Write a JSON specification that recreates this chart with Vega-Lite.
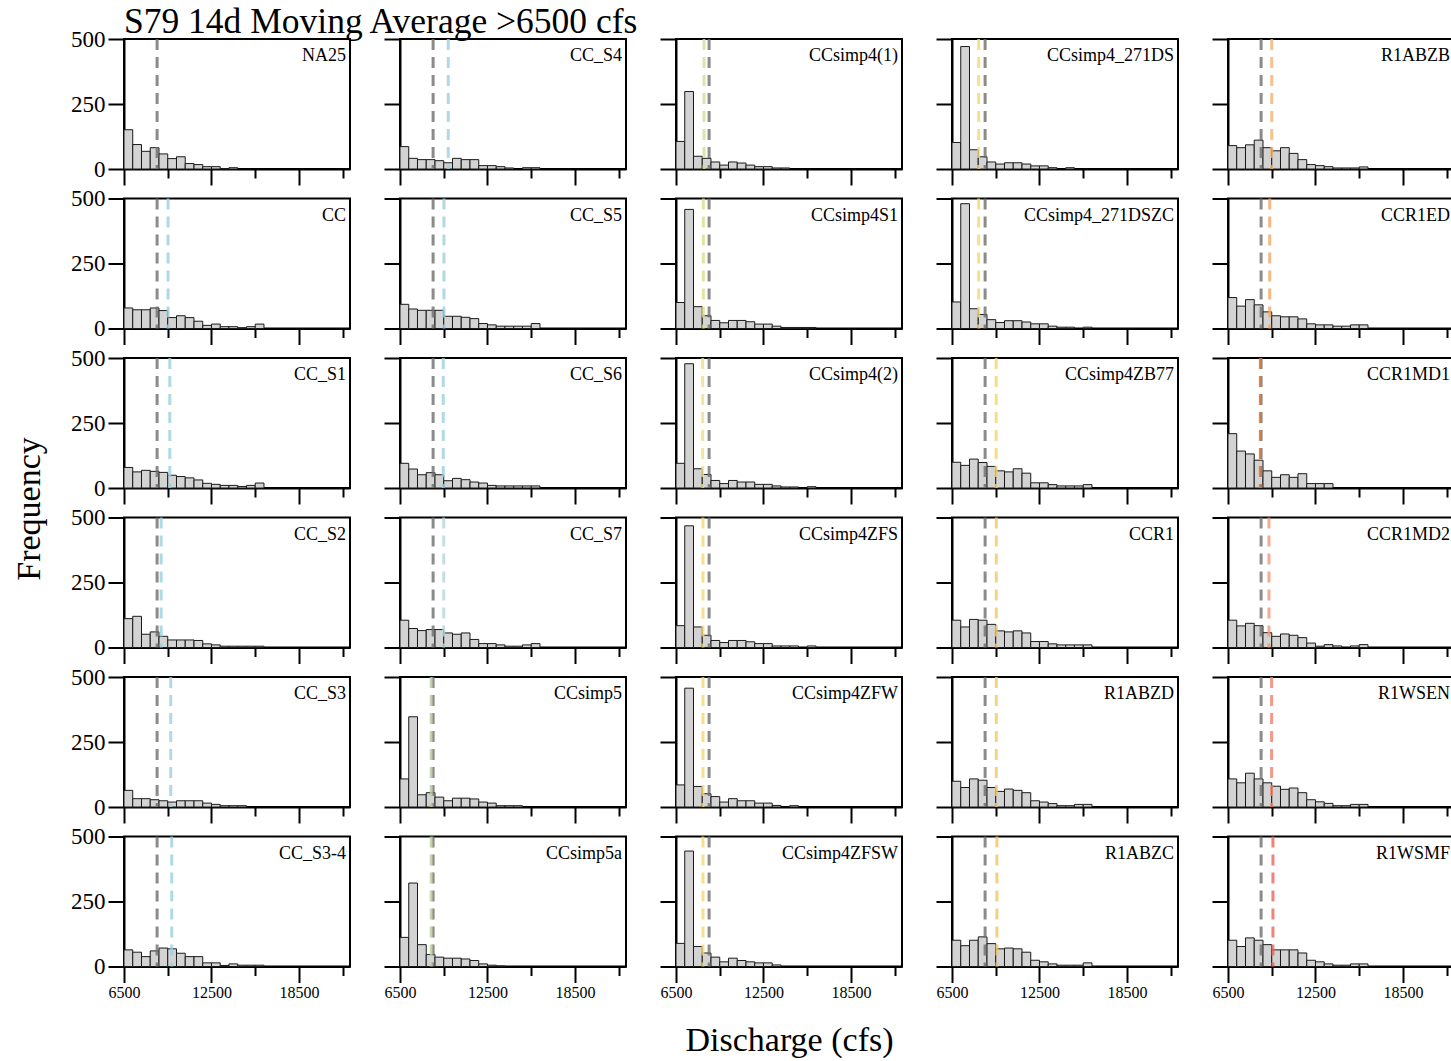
{
"$schema": "https://vega.github.io/schema/vega-lite/v6.json",
"background": "white",
"padding": {"left": 11, "top": 5, "right": 0, "bottom": 0},
"title": {"text": "S79 14d Moving Average >6500 cfs", "anchor": "start", "frame": "group", "font": "Liberation Serif", "fontSize": 35.5, "fontWeight": "normal", "color": "black", "baseline": "alphabetic", "offset": -41.5},
"datasets": {
"hist": [
{"m":"NA25","a":6500,"b":7100,"n":151},{"m":"NA25","a":7100,"b":7700,"n":94},{"m":"NA25","a":7700,"b":8300,"n":68},{"m":"NA25","a":8300,"b":8900,"n":82},{"m":"NA25","a":8900,"b":9500,"n":58},{"m":"NA25","a":9500,"b":10100,"n":40},{"m":"NA25","a":10100,"b":10700,"n":47},{"m":"NA25","a":10700,"b":11300,"n":21},{"m":"NA25","a":11300,"b":11900,"n":17},{"m":"NA25","a":11900,"b":12500,"n":9},{"m":"NA25","a":12500,"b":13100,"n":9},{"m":"NA25","a":13100,"b":13700,"n":1},{"m":"NA25","a":13700,"b":14300,"n":5},
{"m":"CC","a":6500,"b":7100,"n":79},{"m":"CC","a":7100,"b":7700,"n":72},{"m":"CC","a":7700,"b":8300,"n":72},{"m":"CC","a":8300,"b":8900,"n":79},{"m":"CC","a":8900,"b":9500,"n":69},{"m":"CC","a":9500,"b":10100,"n":42},{"m":"CC","a":10100,"b":10700,"n":49},{"m":"CC","a":10700,"b":11300,"n":42},{"m":"CC","a":11300,"b":11900,"n":28},{"m":"CC","a":11900,"b":12500,"n":12},{"m":"CC","a":12500,"b":13100,"n":17},{"m":"CC","a":13100,"b":13700,"n":7},{"m":"CC","a":13700,"b":14300,"n":7},{"m":"CC","a":14300,"b":14900,"n":3},{"m":"CC","a":14900,"b":15500,"n":7},{"m":"CC","a":15500,"b":16100,"n":17},
{"m":"CC_S1","a":6500,"b":7100,"n":79},{"m":"CC_S1","a":7100,"b":7700,"n":62},{"m":"CC_S1","a":7700,"b":8300,"n":68},{"m":"CC_S1","a":8300,"b":8900,"n":64},{"m":"CC_S1","a":8900,"b":9500,"n":60},{"m":"CC_S1","a":9500,"b":10100,"n":49},{"m":"CC_S1","a":10100,"b":10700,"n":44},{"m":"CC_S1","a":10700,"b":11300,"n":39},{"m":"CC_S1","a":11300,"b":11900,"n":31},{"m":"CC_S1","a":11900,"b":12500,"n":18},{"m":"CC_S1","a":12500,"b":13100,"n":14},{"m":"CC_S1","a":13100,"b":13700,"n":10},{"m":"CC_S1","a":13700,"b":14300,"n":10},{"m":"CC_S1","a":14300,"b":14900,"n":6},{"m":"CC_S1","a":14900,"b":15500,"n":10},{"m":"CC_S1","a":15500,"b":16100,"n":19},
{"m":"CC_S2","a":6500,"b":7100,"n":111},{"m":"CC_S2","a":7100,"b":7700,"n":120},{"m":"CC_S2","a":7700,"b":8300,"n":51},{"m":"CC_S2","a":8300,"b":8900,"n":60},{"m":"CC_S2","a":8900,"b":9500,"n":43},{"m":"CC_S2","a":9500,"b":10100,"n":29},{"m":"CC_S2","a":10100,"b":10700,"n":29},{"m":"CC_S2","a":10700,"b":11300,"n":29},{"m":"CC_S2","a":11300,"b":11900,"n":27},{"m":"CC_S2","a":11900,"b":12500,"n":14},{"m":"CC_S2","a":12500,"b":13100,"n":10},{"m":"CC_S2","a":13100,"b":13700,"n":5},{"m":"CC_S2","a":13700,"b":14300,"n":5},{"m":"CC_S2","a":14300,"b":14900,"n":5},{"m":"CC_S2","a":14900,"b":15500,"n":5},{"m":"CC_S2","a":15500,"b":16100,"n":5},
{"m":"CC_S3","a":6500,"b":7100,"n":64},{"m":"CC_S3","a":7100,"b":7700,"n":32},{"m":"CC_S3","a":7700,"b":8300,"n":32},{"m":"CC_S3","a":8300,"b":8900,"n":28},{"m":"CC_S3","a":8900,"b":9500,"n":24},{"m":"CC_S3","a":9500,"b":10100,"n":19},{"m":"CC_S3","a":10100,"b":10700,"n":24},{"m":"CC_S3","a":10700,"b":11300,"n":24},{"m":"CC_S3","a":11300,"b":11900,"n":24},{"m":"CC_S3","a":11900,"b":12500,"n":15},{"m":"CC_S3","a":12500,"b":13100,"n":10},{"m":"CC_S3","a":13100,"b":13700,"n":5},{"m":"CC_S3","a":13700,"b":14300,"n":5},{"m":"CC_S3","a":14300,"b":14900,"n":5},
{"m":"CC_S3-4","a":6500,"b":7100,"n":64},{"m":"CC_S3-4","a":7100,"b":7700,"n":55},{"m":"CC_S3-4","a":7700,"b":8300,"n":38},{"m":"CC_S3-4","a":8300,"b":8900,"n":60},{"m":"CC_S3-4","a":8900,"b":9500,"n":71},{"m":"CC_S3-4","a":9500,"b":10100,"n":68},{"m":"CC_S3-4","a":10100,"b":10700,"n":51},{"m":"CC_S3-4","a":10700,"b":11300,"n":38},{"m":"CC_S3-4","a":11300,"b":11900,"n":38},{"m":"CC_S3-4","a":11900,"b":12500,"n":14},{"m":"CC_S3-4","a":12500,"b":13100,"n":14},{"m":"CC_S3-4","a":13100,"b":13700,"n":4},{"m":"CC_S3-4","a":13700,"b":14300,"n":10},{"m":"CC_S3-4","a":14300,"b":14900,"n":5},{"m":"CC_S3-4","a":14900,"b":15500,"n":5},{"m":"CC_S3-4","a":15500,"b":16100,"n":5},
{"m":"CC_S4","a":6500,"b":7100,"n":86},{"m":"CC_S4","a":7100,"b":7700,"n":41},{"m":"CC_S4","a":7700,"b":8300,"n":36},{"m":"CC_S4","a":8300,"b":8900,"n":36},{"m":"CC_S4","a":8900,"b":9500,"n":32},{"m":"CC_S4","a":9500,"b":10100,"n":24},{"m":"CC_S4","a":10100,"b":10700,"n":41},{"m":"CC_S4","a":10700,"b":11300,"n":36},{"m":"CC_S4","a":11300,"b":11900,"n":36},{"m":"CC_S4","a":11900,"b":12500,"n":13},{"m":"CC_S4","a":12500,"b":13100,"n":13},{"m":"CC_S4","a":13100,"b":13700,"n":9},{"m":"CC_S4","a":13700,"b":14300,"n":4},{"m":"CC_S4","a":14900,"b":15500,"n":5},{"m":"CC_S4","a":15500,"b":16100,"n":5},
{"m":"CC_S5","a":6500,"b":7100,"n":93},{"m":"CC_S5","a":7100,"b":7700,"n":75},{"m":"CC_S5","a":7700,"b":8300,"n":70},{"m":"CC_S5","a":8300,"b":8900,"n":70},{"m":"CC_S5","a":8900,"b":9500,"n":70},{"m":"CC_S5","a":9500,"b":10100,"n":47},{"m":"CC_S5","a":10100,"b":10700,"n":47},{"m":"CC_S5","a":10700,"b":11300,"n":43},{"m":"CC_S5","a":11300,"b":11900,"n":38},{"m":"CC_S5","a":11900,"b":12500,"n":19},{"m":"CC_S5","a":12500,"b":13100,"n":14},{"m":"CC_S5","a":13100,"b":13700,"n":9},{"m":"CC_S5","a":13700,"b":14300,"n":9},{"m":"CC_S5","a":14300,"b":14900,"n":9},{"m":"CC_S5","a":14900,"b":15500,"n":9},{"m":"CC_S5","a":15500,"b":16100,"n":19},
{"m":"CC_S6","a":6500,"b":7100,"n":95},{"m":"CC_S6","a":7100,"b":7700,"n":73},{"m":"CC_S6","a":7700,"b":8300,"n":51},{"m":"CC_S6","a":8300,"b":8900,"n":59},{"m":"CC_S6","a":8900,"b":9500,"n":51},{"m":"CC_S6","a":9500,"b":10100,"n":28},{"m":"CC_S6","a":10100,"b":10700,"n":37},{"m":"CC_S6","a":10700,"b":11300,"n":32},{"m":"CC_S6","a":11300,"b":11900,"n":23},{"m":"CC_S6","a":11900,"b":12500,"n":19},{"m":"CC_S6","a":12500,"b":13100,"n":10},{"m":"CC_S6","a":13100,"b":13700,"n":8},{"m":"CC_S6","a":13700,"b":14300,"n":8},{"m":"CC_S6","a":14300,"b":14900,"n":8},{"m":"CC_S6","a":14900,"b":15500,"n":8},{"m":"CC_S6","a":15500,"b":16100,"n":8},
{"m":"CC_S7","a":6500,"b":7100,"n":105},{"m":"CC_S7","a":7100,"b":7700,"n":73},{"m":"CC_S7","a":7700,"b":8300,"n":65},{"m":"CC_S7","a":8300,"b":8900,"n":69},{"m":"CC_S7","a":8900,"b":9500,"n":69},{"m":"CC_S7","a":9500,"b":10100,"n":56},{"m":"CC_S7","a":10100,"b":10700,"n":51},{"m":"CC_S7","a":10700,"b":11300,"n":56},{"m":"CC_S7","a":11300,"b":11900,"n":31},{"m":"CC_S7","a":11900,"b":12500,"n":15},{"m":"CC_S7","a":12500,"b":13100,"n":15},{"m":"CC_S7","a":13100,"b":13700,"n":10},{"m":"CC_S7","a":13700,"b":14300,"n":5},{"m":"CC_S7","a":14300,"b":14900,"n":5},{"m":"CC_S7","a":14900,"b":15500,"n":10},{"m":"CC_S7","a":15500,"b":16100,"n":15},
{"m":"CCsimp5","a":6500,"b":7100,"n":108},{"m":"CCsimp5","a":7100,"b":7700,"n":347},{"m":"CCsimp5","a":7700,"b":8300,"n":47},{"m":"CCsimp5","a":8300,"b":8900,"n":55},{"m":"CCsimp5","a":8900,"b":9500,"n":38},{"m":"CCsimp5","a":9500,"b":10100,"n":24},{"m":"CCsimp5","a":10100,"b":10700,"n":34},{"m":"CCsimp5","a":10700,"b":11300,"n":34},{"m":"CCsimp5","a":11300,"b":11900,"n":31},{"m":"CCsimp5","a":11900,"b":12500,"n":19},{"m":"CCsimp5","a":12500,"b":13100,"n":15},{"m":"CCsimp5","a":13100,"b":13700,"n":5},{"m":"CCsimp5","a":13700,"b":14300,"n":5},{"m":"CCsimp5","a":14300,"b":14900,"n":5},
{"m":"CCsimp5a","a":6500,"b":7100,"n":112},{"m":"CCsimp5a","a":7100,"b":7700,"n":321},{"m":"CCsimp5a","a":7700,"b":8300,"n":84},{"m":"CCsimp5a","a":8300,"b":8900,"n":46},{"m":"CCsimp5a","a":8900,"b":9500,"n":36},{"m":"CCsimp5a","a":9500,"b":10100,"n":32},{"m":"CCsimp5a","a":10100,"b":10700,"n":32},{"m":"CCsimp5a","a":10700,"b":11300,"n":29},{"m":"CCsimp5a","a":11300,"b":11900,"n":23},{"m":"CCsimp5a","a":11900,"b":12500,"n":10},{"m":"CCsimp5a","a":12500,"b":13100,"n":5},{"m":"CCsimp5a","a":13100,"b":13700,"n":2},
{"m":"CCsimp4(1)","a":6500,"b":7100,"n":106},{"m":"CCsimp4(1)","a":7100,"b":7700,"n":298},{"m":"CCsimp4(1)","a":7700,"b":8300,"n":49},{"m":"CCsimp4(1)","a":8300,"b":8900,"n":41},{"m":"CCsimp4(1)","a":8900,"b":9500,"n":27},{"m":"CCsimp4(1)","a":9500,"b":10100,"n":15},{"m":"CCsimp4(1)","a":10100,"b":10700,"n":27},{"m":"CCsimp4(1)","a":10700,"b":11300,"n":23},{"m":"CCsimp4(1)","a":11300,"b":11900,"n":15},{"m":"CCsimp4(1)","a":11900,"b":12500,"n":9},{"m":"CCsimp4(1)","a":12500,"b":13100,"n":9},{"m":"CCsimp4(1)","a":13100,"b":13700,"n":4},{"m":"CCsimp4(1)","a":13700,"b":14300,"n":4},
{"m":"CCsimp4S1","a":6500,"b":7100,"n":100},{"m":"CCsimp4S1","a":7100,"b":7700,"n":458},{"m":"CCsimp4S1","a":7700,"b":8300,"n":84},{"m":"CCsimp4S1","a":8300,"b":8900,"n":49},{"m":"CCsimp4S1","a":8900,"b":9500,"n":31},{"m":"CCsimp4S1","a":9500,"b":10100,"n":22},{"m":"CCsimp4S1","a":10100,"b":10700,"n":31},{"m":"CCsimp4S1","a":10700,"b":11300,"n":31},{"m":"CCsimp4S1","a":11300,"b":11900,"n":26},{"m":"CCsimp4S1","a":11900,"b":12500,"n":17},{"m":"CCsimp4S1","a":12500,"b":13100,"n":17},{"m":"CCsimp4S1","a":13100,"b":13700,"n":9},{"m":"CCsimp4S1","a":13700,"b":14300,"n":4},{"m":"CCsimp4S1","a":14300,"b":14900,"n":4},{"m":"CCsimp4S1","a":14900,"b":15500,"n":4},{"m":"CCsimp4S1","a":15500,"b":16100,"n":4},
{"m":"CCsimp4(2)","a":6500,"b":7100,"n":95},{"m":"CCsimp4(2)","a":7100,"b":7700,"n":478},{"m":"CCsimp4(2)","a":7700,"b":8300,"n":74},{"m":"CCsimp4(2)","a":8300,"b":8900,"n":52},{"m":"CCsimp4(2)","a":8900,"b":9500,"n":29},{"m":"CCsimp4(2)","a":9500,"b":10100,"n":17},{"m":"CCsimp4(2)","a":10100,"b":10700,"n":29},{"m":"CCsimp4(2)","a":10700,"b":11300,"n":23},{"m":"CCsimp4(2)","a":11300,"b":11900,"n":23},{"m":"CCsimp4(2)","a":11900,"b":12500,"n":14},{"m":"CCsimp4(2)","a":12500,"b":13100,"n":14},{"m":"CCsimp4(2)","a":13100,"b":13700,"n":8},{"m":"CCsimp4(2)","a":13700,"b":14300,"n":4},{"m":"CCsimp4(2)","a":14300,"b":14900,"n":4},{"m":"CCsimp4(2)","a":15500,"b":16100,"n":5},
{"m":"CCsimp4ZFS","a":6500,"b":7100,"n":84},{"m":"CCsimp4ZFS","a":7100,"b":7700,"n":468},{"m":"CCsimp4ZFS","a":7700,"b":8300,"n":79},{"m":"CCsimp4ZFS","a":8300,"b":8900,"n":47},{"m":"CCsimp4ZFS","a":8900,"b":9500,"n":27},{"m":"CCsimp4ZFS","a":9500,"b":10100,"n":19},{"m":"CCsimp4ZFS","a":10100,"b":10700,"n":27},{"m":"CCsimp4ZFS","a":10700,"b":11300,"n":27},{"m":"CCsimp4ZFS","a":11300,"b":11900,"n":22},{"m":"CCsimp4ZFS","a":11900,"b":12500,"n":15},{"m":"CCsimp4ZFS","a":12500,"b":13100,"n":15},{"m":"CCsimp4ZFS","a":13100,"b":13700,"n":6},{"m":"CCsimp4ZFS","a":13700,"b":14300,"n":6},{"m":"CCsimp4ZFS","a":14300,"b":14900,"n":6},{"m":"CCsimp4ZFS","a":15500,"b":16100,"n":6},
{"m":"CCsimp4ZFW","a":6500,"b":7100,"n":85},{"m":"CCsimp4ZFW","a":7100,"b":7700,"n":457},{"m":"CCsimp4ZFW","a":7700,"b":8300,"n":79},{"m":"CCsimp4ZFW","a":8300,"b":8900,"n":51},{"m":"CCsimp4ZFW","a":8900,"b":9500,"n":40},{"m":"CCsimp4ZFW","a":9500,"b":10100,"n":19},{"m":"CCsimp4ZFW","a":10100,"b":10700,"n":32},{"m":"CCsimp4ZFW","a":10700,"b":11300,"n":24},{"m":"CCsimp4ZFW","a":11300,"b":11900,"n":24},{"m":"CCsimp4ZFW","a":11900,"b":12500,"n":15},{"m":"CCsimp4ZFW","a":12500,"b":13100,"n":15},{"m":"CCsimp4ZFW","a":13100,"b":13700,"n":6},{"m":"CCsimp4ZFW","a":14300,"b":14900,"n":5},
{"m":"CCsimp4ZFSW","a":6500,"b":7100,"n":89},{"m":"CCsimp4ZFSW","a":7100,"b":7700,"n":444},{"m":"CCsimp4ZFSW","a":7700,"b":8300,"n":77},{"m":"CCsimp4ZFSW","a":8300,"b":8900,"n":52},{"m":"CCsimp4ZFSW","a":8900,"b":9500,"n":36},{"m":"CCsimp4ZFSW","a":9500,"b":10100,"n":18},{"m":"CCsimp4ZFSW","a":10100,"b":10700,"n":32},{"m":"CCsimp4ZFSW","a":10700,"b":11300,"n":23},{"m":"CCsimp4ZFSW","a":11300,"b":11900,"n":18},{"m":"CCsimp4ZFSW","a":11900,"b":12500,"n":14},{"m":"CCsimp4ZFSW","a":12500,"b":13100,"n":14},{"m":"CCsimp4ZFSW","a":13100,"b":13700,"n":6},
{"m":"CCsimp4_271DS","a":6500,"b":7100,"n":102},{"m":"CCsimp4_271DS","a":7100,"b":7700,"n":471},{"m":"CCsimp4_271DS","a":7700,"b":8300,"n":74},{"m":"CCsimp4_271DS","a":8300,"b":8900,"n":47},{"m":"CCsimp4_271DS","a":8900,"b":9500,"n":27},{"m":"CCsimp4_271DS","a":9500,"b":10100,"n":19},{"m":"CCsimp4_271DS","a":10100,"b":10700,"n":24},{"m":"CCsimp4_271DS","a":10700,"b":11300,"n":24},{"m":"CCsimp4_271DS","a":11300,"b":11900,"n":19},{"m":"CCsimp4_271DS","a":11900,"b":12500,"n":12},{"m":"CCsimp4_271DS","a":12500,"b":13100,"n":12},{"m":"CCsimp4_271DS","a":13100,"b":13700,"n":5},{"m":"CCsimp4_271DS","a":14300,"b":14900,"n":5},
{"m":"CCsimp4_271DSZC","a":6500,"b":7100,"n":102},{"m":"CCsimp4_271DSZC","a":7100,"b":7700,"n":480},{"m":"CCsimp4_271DSZC","a":7700,"b":8300,"n":76},{"m":"CCsimp4_271DSZC","a":8300,"b":8900,"n":54},{"m":"CCsimp4_271DSZC","a":8900,"b":9500,"n":34},{"m":"CCsimp4_271DSZC","a":9500,"b":10100,"n":23},{"m":"CCsimp4_271DSZC","a":10100,"b":10700,"n":30},{"m":"CCsimp4_271DSZC","a":10700,"b":11300,"n":30},{"m":"CCsimp4_271DSZC","a":11300,"b":11900,"n":25},{"m":"CCsimp4_271DSZC","a":11900,"b":12500,"n":18},{"m":"CCsimp4_271DSZC","a":12500,"b":13100,"n":18},{"m":"CCsimp4_271DSZC","a":13100,"b":13700,"n":9},{"m":"CCsimp4_271DSZC","a":13700,"b":14300,"n":5},{"m":"CCsimp4_271DSZC","a":14300,"b":14900,"n":5},{"m":"CCsimp4_271DSZC","a":15500,"b":16100,"n":5},
{"m":"CCsimp4ZB77","a":6500,"b":7100,"n":99},{"m":"CCsimp4ZB77","a":7100,"b":7700,"n":87},{"m":"CCsimp4ZB77","a":7700,"b":8300,"n":111},{"m":"CCsimp4ZB77","a":8300,"b":8900,"n":98},{"m":"CCsimp4ZB77","a":8900,"b":9500,"n":83},{"m":"CCsimp4ZB77","a":9500,"b":10100,"n":66},{"m":"CCsimp4ZB77","a":10100,"b":10700,"n":62},{"m":"CCsimp4ZB77","a":10700,"b":11300,"n":74},{"m":"CCsimp4ZB77","a":11300,"b":11900,"n":57},{"m":"CCsimp4ZB77","a":11900,"b":12500,"n":20},{"m":"CCsimp4ZB77","a":12500,"b":13100,"n":20},{"m":"CCsimp4ZB77","a":13100,"b":13700,"n":13},{"m":"CCsimp4ZB77","a":13700,"b":14300,"n":8},{"m":"CCsimp4ZB77","a":14300,"b":14900,"n":8},{"m":"CCsimp4ZB77","a":14900,"b":15500,"n":8},{"m":"CCsimp4ZB77","a":15500,"b":16100,"n":13},
{"m":"CCR1","a":6500,"b":7100,"n":105},{"m":"CCR1","a":7100,"b":7700,"n":79},{"m":"CCR1","a":7700,"b":8300,"n":108},{"m":"CCR1","a":8300,"b":8900,"n":105},{"m":"CCR1","a":8900,"b":9500,"n":89},{"m":"CCR1","a":9500,"b":10100,"n":64},{"m":"CCR1","a":10100,"b":10700,"n":60},{"m":"CCR1","a":10700,"b":11300,"n":64},{"m":"CCR1","a":11300,"b":11900,"n":56},{"m":"CCR1","a":11900,"b":12500,"n":23},{"m":"CCR1","a":12500,"b":13100,"n":23},{"m":"CCR1","a":13100,"b":13700,"n":14},{"m":"CCR1","a":13700,"b":14300,"n":10},{"m":"CCR1","a":14300,"b":14900,"n":10},{"m":"CCR1","a":14900,"b":15500,"n":10},{"m":"CCR1","a":15500,"b":16100,"n":10},
{"m":"R1ABZD","a":6500,"b":7100,"n":99},{"m":"R1ABZD","a":7100,"b":7700,"n":75},{"m":"R1ABZD","a":7700,"b":8300,"n":108},{"m":"R1ABZD","a":8300,"b":8900,"n":103},{"m":"R1ABZD","a":8900,"b":9500,"n":75},{"m":"R1ABZD","a":9500,"b":10100,"n":60},{"m":"R1ABZD","a":10100,"b":10700,"n":69},{"m":"R1ABZD","a":10700,"b":11300,"n":64},{"m":"R1ABZD","a":11300,"b":11900,"n":55},{"m":"R1ABZD","a":11900,"b":12500,"n":24},{"m":"R1ABZD","a":12500,"b":13100,"n":19},{"m":"R1ABZD","a":13100,"b":13700,"n":13},{"m":"R1ABZD","a":13700,"b":14300,"n":5},{"m":"R1ABZD","a":14300,"b":14900,"n":5},{"m":"R1ABZD","a":14900,"b":15500,"n":10},{"m":"R1ABZD","a":15500,"b":16100,"n":10},
{"m":"R1ABZC","a":6500,"b":7100,"n":101},{"m":"R1ABZC","a":7100,"b":7700,"n":80},{"m":"R1ABZC","a":7700,"b":8300,"n":101},{"m":"R1ABZC","a":8300,"b":8900,"n":114},{"m":"R1ABZC","a":8900,"b":9500,"n":88},{"m":"R1ABZC","a":9500,"b":10100,"n":68},{"m":"R1ABZC","a":10100,"b":10700,"n":71},{"m":"R1ABZC","a":10700,"b":11300,"n":68},{"m":"R1ABZC","a":11300,"b":11900,"n":55},{"m":"R1ABZC","a":11900,"b":12500,"n":24},{"m":"R1ABZC","a":12500,"b":13100,"n":18},{"m":"R1ABZC","a":13100,"b":13700,"n":10},{"m":"R1ABZC","a":13700,"b":14300,"n":5},{"m":"R1ABZC","a":14300,"b":14900,"n":5},{"m":"R1ABZC","a":14900,"b":15500,"n":5},{"m":"R1ABZC","a":15500,"b":16100,"n":14},
{"m":"R1ABZB","a":6500,"b":7100,"n":90},{"m":"R1ABZB","a":7100,"b":7700,"n":82},{"m":"R1ABZB","a":7700,"b":8300,"n":93},{"m":"R1ABZB","a":8300,"b":8900,"n":111},{"m":"R1ABZB","a":8900,"b":9500,"n":82},{"m":"R1ABZB","a":9500,"b":10100,"n":70},{"m":"R1ABZB","a":10100,"b":10700,"n":82},{"m":"R1ABZB","a":10700,"b":11300,"n":60},{"m":"R1ABZB","a":11300,"b":11900,"n":36},{"m":"R1ABZB","a":11900,"b":12500,"n":17},{"m":"R1ABZB","a":12500,"b":13100,"n":13},{"m":"R1ABZB","a":13100,"b":13700,"n":9},{"m":"R1ABZB","a":13700,"b":14300,"n":4},{"m":"R1ABZB","a":14300,"b":14900,"n":4},{"m":"R1ABZB","a":14900,"b":15500,"n":4},{"m":"R1ABZB","a":15500,"b":16100,"n":8},
{"m":"CCR1ED","a":6500,"b":7100,"n":119},{"m":"CCR1ED","a":7100,"b":7700,"n":86},{"m":"CCR1ED","a":7700,"b":8300,"n":111},{"m":"CCR1ED","a":8300,"b":8900,"n":91},{"m":"CCR1ED","a":8900,"b":9500,"n":64},{"m":"CCR1ED","a":9500,"b":10100,"n":49},{"m":"CCR1ED","a":10100,"b":10700,"n":45},{"m":"CCR1ED","a":10700,"b":11300,"n":45},{"m":"CCR1ED","a":11300,"b":11900,"n":37},{"m":"CCR1ED","a":11900,"b":12500,"n":18},{"m":"CCR1ED","a":12500,"b":13100,"n":14},{"m":"CCR1ED","a":13100,"b":13700,"n":14},{"m":"CCR1ED","a":13700,"b":14300,"n":9},{"m":"CCR1ED","a":14300,"b":14900,"n":9},{"m":"CCR1ED","a":14900,"b":15500,"n":14},{"m":"CCR1ED","a":15500,"b":16100,"n":14},
{"m":"CCR1MD1","a":6500,"b":7100,"n":209},{"m":"CCR1MD1","a":7100,"b":7700,"n":142},{"m":"CCR1MD1","a":7700,"b":8300,"n":131},{"m":"CCR1MD1","a":8300,"b":8900,"n":107},{"m":"CCR1MD1","a":8900,"b":9500,"n":66},{"m":"CCR1MD1","a":9500,"b":10100,"n":41},{"m":"CCR1MD1","a":10100,"b":10700,"n":51},{"m":"CCR1MD1","a":10700,"b":11300,"n":41},{"m":"CCR1MD1","a":11300,"b":11900,"n":55},{"m":"CCR1MD1","a":11900,"b":12500,"n":17},{"m":"CCR1MD1","a":12500,"b":13100,"n":17},{"m":"CCR1MD1","a":13100,"b":13700,"n":17},
{"m":"CCR1MD2","a":6500,"b":7100,"n":105},{"m":"CCR1MD2","a":7100,"b":7700,"n":83},{"m":"CCR1MD2","a":7700,"b":8300,"n":93},{"m":"CCR1MD2","a":8300,"b":8900,"n":84},{"m":"CCR1MD2","a":8900,"b":9500,"n":57},{"m":"CCR1MD2","a":9500,"b":10100,"n":43},{"m":"CCR1MD2","a":10100,"b":10700,"n":52},{"m":"CCR1MD2","a":10700,"b":11300,"n":47},{"m":"CCR1MD2","a":11300,"b":11900,"n":38},{"m":"CCR1MD2","a":11900,"b":12500,"n":17},{"m":"CCR1MD2","a":12500,"b":13100,"n":5},{"m":"CCR1MD2","a":13100,"b":13700,"n":11},{"m":"CCR1MD2","a":13700,"b":14300,"n":6},{"m":"CCR1MD2","a":14900,"b":15500,"n":6},{"m":"CCR1MD2","a":15500,"b":16100,"n":11},
{"m":"R1WSEN","a":6500,"b":7100,"n":108},{"m":"R1WSEN","a":7100,"b":7700,"n":93},{"m":"R1WSEN","a":7700,"b":8300,"n":130},{"m":"R1WSEN","a":8300,"b":8900,"n":108},{"m":"R1WSEN","a":8900,"b":9500,"n":93},{"m":"R1WSEN","a":9500,"b":10100,"n":80},{"m":"R1WSEN","a":10100,"b":10700,"n":68},{"m":"R1WSEN","a":10700,"b":11300,"n":73},{"m":"R1WSEN","a":11300,"b":11900,"n":55},{"m":"R1WSEN","a":11900,"b":12500,"n":28},{"m":"R1WSEN","a":12500,"b":13100,"n":20},{"m":"R1WSEN","a":13100,"b":13700,"n":14},{"m":"R1WSEN","a":13700,"b":14300,"n":5},{"m":"R1WSEN","a":14300,"b":14900,"n":5},{"m":"R1WSEN","a":14900,"b":15500,"n":10},{"m":"R1WSEN","a":15500,"b":16100,"n":10},
{"m":"R1WSMF","a":6500,"b":7100,"n":101},{"m":"R1WSMF","a":7100,"b":7700,"n":77},{"m":"R1WSMF","a":7700,"b":8300,"n":110},{"m":"R1WSMF","a":8300,"b":8900,"n":101},{"m":"R1WSMF","a":8900,"b":9500,"n":84},{"m":"R1WSMF","a":9500,"b":10100,"n":64},{"m":"R1WSMF","a":10100,"b":10700,"n":64},{"m":"R1WSMF","a":10700,"b":11300,"n":64},{"m":"R1WSMF","a":11300,"b":11900,"n":52},{"m":"R1WSMF","a":11900,"b":12500,"n":24},{"m":"R1WSMF","a":12500,"b":13100,"n":18},{"m":"R1WSMF","a":13100,"b":13700,"n":10},{"m":"R1WSMF","a":13700,"b":14300,"n":5},{"m":"R1WSMF","a":14300,"b":14900,"n":5},{"m":"R1WSMF","a":14900,"b":15500,"n":10},{"m":"R1WSMF","a":15500,"b":16100,"n":10}
],
"means": [
{"m":"NA25","s":"NA25","v":8770},
{"m":"CC","s":"NA25","v":8770},{"m":"CC","s":"CC","v":9523},
{"m":"CC_S1","s":"NA25","v":8770},{"m":"CC_S1","s":"CC_S1","v":9641},
{"m":"CC_S2","s":"NA25","v":8770},{"m":"CC_S2","s":"CC_S2","v":9050},
{"m":"CC_S3","s":"NA25","v":8770},{"m":"CC_S3","s":"CC_S3","v":9705},
{"m":"CC_S3-4","s":"NA25","v":8770},{"m":"CC_S3-4","s":"CC_S3-4","v":9773},
{"m":"CC_S4","s":"NA25","v":8770},{"m":"CC_S4","s":"CC_S4","v":9811},
{"m":"CC_S5","s":"NA25","v":8770},{"m":"CC_S5","s":"CC_S5","v":9514},
{"m":"CC_S6","s":"NA25","v":8770},{"m":"CC_S6","s":"CC_S6","v":9468},
{"m":"CC_S7","s":"NA25","v":8770},{"m":"CC_S7","s":"CC_S7","v":9500},
{"m":"CCsimp5","s":"NA25","v":8770},{"m":"CCsimp5","s":"CCsimp5","v":8640},
{"m":"CCsimp5a","s":"NA25","v":8770},{"m":"CCsimp5a","s":"CCsimp5a","v":8640},
{"m":"CCsimp4(1)","s":"NA25","v":8770},{"m":"CCsimp4(1)","s":"CCsimp4(1)","v":8422},
{"m":"CCsimp4S1","s":"NA25","v":8770},{"m":"CCsimp4S1","s":"CCsimp4S1","v":8376},
{"m":"CCsimp4(2)","s":"NA25","v":8770},{"m":"CCsimp4(2)","s":"CCsimp4(2)","v":8330},
{"m":"CCsimp4ZFS","s":"NA25","v":8770},{"m":"CCsimp4ZFS","s":"CCsimp4ZFS","v":8349},
{"m":"CCsimp4ZFW","s":"NA25","v":8770},{"m":"CCsimp4ZFW","s":"CCsimp4ZFW","v":8349},
{"m":"CCsimp4ZFSW","s":"NA25","v":8770},{"m":"CCsimp4ZFSW","s":"CCsimp4ZFSW","v":8349},
{"m":"CCsimp4_271DS","s":"NA25","v":8770},{"m":"CCsimp4_271DS","s":"CCsimp4_271DS","v":8330},
{"m":"CCsimp4_271DSZC","s":"NA25","v":8770},{"m":"CCsimp4_271DSZC","s":"CCsimp4_271DSZC","v":8330},
{"m":"CCsimp4ZB77","s":"NA25","v":8770},{"m":"CCsimp4ZB77","s":"CCsimp4ZB77","v":9530},
{"m":"CCR1","s":"NA25","v":8770},{"m":"CCR1","s":"CCR1","v":9537},
{"m":"R1ABZD","s":"NA25","v":8770},{"m":"R1ABZD","s":"R1ABZD","v":9537},
{"m":"R1ABZC","s":"NA25","v":8770},{"m":"R1ABZC","s":"R1ABZC","v":9580},
{"m":"R1ABZB","s":"NA25","v":8770},{"m":"R1ABZB","s":"R1ABZB","v":9500},
{"m":"CCR1ED","s":"NA25","v":8770},{"m":"CCR1ED","s":"CCR1ED","v":9360},
{"m":"CCR1MD1","s":"NA25","v":8770},{"m":"CCR1MD1","s":"CCR1MD1","v":8720},
{"m":"CCR1MD2","s":"NA25","v":8770},{"m":"CCR1MD2","s":"CCR1MD2","v":9308},
{"m":"R1WSEN","s":"NA25","v":8770},{"m":"R1WSEN","s":"R1WSEN","v":9490},
{"m":"R1WSMF","s":"NA25","v":8770},{"m":"R1WSMF","s":"R1WSMF","v":9582}
]
},
"columns": 5,
"spacing": {"row": 29.5, "column": 50},
"bounds": "flush",
"resolve": {"scale": {"color": "independent"}},
"concat": [
{"width":226,"height":130,"layer":[
{"data":{"name":"hist"},"transform":[{"filter":"datum.m==='NA25'"}],"mark":"bar","encoding":{"x":{"field":"a","type":"quantitative","scale":{"domain":[6500,22000],"nice":false,"zero":false},"axis":{"values":[6500,9500,12500,15500,18500,21500],"labels":false,"title":null,"tickSize":{"condition":{"test":"(datum.value-6500)%6000===0","value":16},"value":9}}},"x2":{"field":"b"},"y":{"field":"n","type":"quantitative","scale":{"domain":[0,500]},"axis":{"values":[0,125,250,375,500],"labelExpr":"datum.value%250===0 ? datum.label : ''","title":null,"tickSize":{"condition":{"test":"datum.value%250===0","value":16},"value":8}}},"y2":{"datum":0}}},
{"data":{"name":"means"},"transform":[{"filter":"datum.m==='NA25'"}],"mark":"rule","encoding":{"x":{"field":"v","type":"quantitative"},"color":{"field":"s","type":"nominal","scale":{"domain":["NA25"],"range":["#6e6e6e"]},"legend":null}}},
{"data":{"name":"means"},"transform":[{"filter":"datum.m==='NA25' && datum.s==='NA25'"}],"mark":"text","encoding":{"x":{"datum":22000},"y":{"datum":500},"text":{"field":"m"}}}]},
{"width":226,"height":130,"layer":[
{"data":{"name":"hist"},"transform":[{"filter":"datum.m==='CC_S4'"}],"mark":"bar","encoding":{"x":{"field":"a","type":"quantitative","scale":{"domain":[6500,22000],"nice":false,"zero":false},"axis":{"values":[6500,9500,12500,15500,18500,21500],"labels":false,"title":null,"tickSize":{"condition":{"test":"(datum.value-6500)%6000===0","value":16},"value":9}}},"x2":{"field":"b"},"y":{"field":"n","type":"quantitative","scale":{"domain":[0,500]},"axis":{"values":[0,125,250,375,500],"labels":false,"title":null,"tickSize":{"condition":{"test":"datum.value%250===0","value":16},"value":8}}},"y2":{"datum":0}}},
{"data":{"name":"means"},"transform":[{"filter":"datum.m==='CC_S4'"}],"mark":"rule","encoding":{"x":{"field":"v","type":"quantitative"},"color":{"field":"s","type":"nominal","scale":{"domain":["NA25","CC_S4"],"range":["#6e6e6e","#9ccfe0"]},"legend":null}}},
{"data":{"name":"means"},"transform":[{"filter":"datum.m==='CC_S4' && datum.s==='CC_S4'"}],"mark":"text","encoding":{"x":{"datum":22000},"y":{"datum":500},"text":{"field":"m"}}}]},
{"width":226,"height":130,"layer":[
{"data":{"name":"hist"},"transform":[{"filter":"datum.m==='CCsimp4(1)'"}],"mark":"bar","encoding":{"x":{"field":"a","type":"quantitative","scale":{"domain":[6500,22000],"nice":false,"zero":false},"axis":{"values":[6500,9500,12500,15500,18500,21500],"labels":false,"title":null,"tickSize":{"condition":{"test":"(datum.value-6500)%6000===0","value":16},"value":9}}},"x2":{"field":"b"},"y":{"field":"n","type":"quantitative","scale":{"domain":[0,500]},"axis":{"values":[0,125,250,375,500],"labels":false,"title":null,"tickSize":{"condition":{"test":"datum.value%250===0","value":16},"value":8}}},"y2":{"datum":0}}},
{"data":{"name":"means"},"transform":[{"filter":"datum.m==='CCsimp4(1)'"}],"mark":"rule","encoding":{"x":{"field":"v","type":"quantitative"},"color":{"field":"s","type":"nominal","scale":{"domain":["NA25","CCsimp4(1)"],"range":["#6e6e6e","#d6dc94"]},"legend":null}}},
{"data":{"name":"means"},"transform":[{"filter":"datum.m==='CCsimp4(1)' && datum.s==='CCsimp4(1)'"}],"mark":"text","encoding":{"x":{"datum":22000},"y":{"datum":500},"text":{"field":"m"}}}]},
{"width":226,"height":130,"layer":[
{"data":{"name":"hist"},"transform":[{"filter":"datum.m==='CCsimp4_271DS'"}],"mark":"bar","encoding":{"x":{"field":"a","type":"quantitative","scale":{"domain":[6500,22000],"nice":false,"zero":false},"axis":{"values":[6500,9500,12500,15500,18500,21500],"labels":false,"title":null,"tickSize":{"condition":{"test":"(datum.value-6500)%6000===0","value":16},"value":9}}},"x2":{"field":"b"},"y":{"field":"n","type":"quantitative","scale":{"domain":[0,500]},"axis":{"values":[0,125,250,375,500],"labels":false,"title":null,"tickSize":{"condition":{"test":"datum.value%250===0","value":16},"value":8}}},"y2":{"datum":0}}},
{"data":{"name":"means"},"transform":[{"filter":"datum.m==='CCsimp4_271DS'"}],"mark":"rule","encoding":{"x":{"field":"v","type":"quantitative"},"color":{"field":"s","type":"nominal","scale":{"domain":["NA25","CCsimp4_271DS"],"range":["#6e6e6e","#f5d86e"]},"legend":null}}},
{"data":{"name":"means"},"transform":[{"filter":"datum.m==='CCsimp4_271DS' && datum.s==='CCsimp4_271DS'"}],"mark":"text","encoding":{"x":{"datum":22000},"y":{"datum":500},"text":{"field":"m"}}}]},
{"width":226,"height":130,"layer":[
{"data":{"name":"hist"},"transform":[{"filter":"datum.m==='R1ABZB'"}],"mark":"bar","encoding":{"x":{"field":"a","type":"quantitative","scale":{"domain":[6500,22000],"nice":false,"zero":false},"axis":{"values":[6500,9500,12500,15500,18500,21500],"labels":false,"title":null,"tickSize":{"condition":{"test":"(datum.value-6500)%6000===0","value":16},"value":9}}},"x2":{"field":"b"},"y":{"field":"n","type":"quantitative","scale":{"domain":[0,500]},"axis":{"values":[0,125,250,375,500],"labels":false,"title":null,"tickSize":{"condition":{"test":"datum.value%250===0","value":16},"value":8}}},"y2":{"datum":0}}},
{"data":{"name":"means"},"transform":[{"filter":"datum.m==='R1ABZB'"}],"mark":"rule","encoding":{"x":{"field":"v","type":"quantitative"},"color":{"field":"s","type":"nominal","scale":{"domain":["NA25","R1ABZB"],"range":["#6e6e6e","#f4b26e"]},"legend":null}}},
{"data":{"name":"means"},"transform":[{"filter":"datum.m==='R1ABZB' && datum.s==='R1ABZB'"}],"mark":"text","encoding":{"x":{"datum":22000},"y":{"datum":500},"text":{"field":"m"}}}]},

{"width":226,"height":130,"layer":[
{"data":{"name":"hist"},"transform":[{"filter":"datum.m==='CC'"}],"mark":"bar","encoding":{"x":{"field":"a","type":"quantitative","scale":{"domain":[6500,22000],"nice":false,"zero":false},"axis":{"values":[6500,9500,12500,15500,18500,21500],"labels":false,"title":null,"tickSize":{"condition":{"test":"(datum.value-6500)%6000===0","value":16},"value":9}}},"x2":{"field":"b"},"y":{"field":"n","type":"quantitative","scale":{"domain":[0,500]},"axis":{"values":[0,125,250,375,500],"labelExpr":"datum.value%250===0 ? datum.label : ''","title":null,"tickSize":{"condition":{"test":"datum.value%250===0","value":16},"value":8}}},"y2":{"datum":0}}},
{"data":{"name":"means"},"transform":[{"filter":"datum.m==='CC'"}],"mark":"rule","encoding":{"x":{"field":"v","type":"quantitative"},"color":{"field":"s","type":"nominal","scale":{"domain":["NA25","CC"],"range":["#6e6e6e","#9ccfe0"]},"legend":null}}},
{"data":{"name":"means"},"transform":[{"filter":"datum.m==='CC' && datum.s==='CC'"}],"mark":"text","encoding":{"x":{"datum":22000},"y":{"datum":500},"text":{"field":"m"}}}]},
{"width":226,"height":130,"layer":[
{"data":{"name":"hist"},"transform":[{"filter":"datum.m==='CC_S5'"}],"mark":"bar","encoding":{"x":{"field":"a","type":"quantitative","scale":{"domain":[6500,22000],"nice":false,"zero":false},"axis":{"values":[6500,9500,12500,15500,18500,21500],"labels":false,"title":null,"tickSize":{"condition":{"test":"(datum.value-6500)%6000===0","value":16},"value":9}}},"x2":{"field":"b"},"y":{"field":"n","type":"quantitative","scale":{"domain":[0,500]},"axis":{"values":[0,125,250,375,500],"labels":false,"title":null,"tickSize":{"condition":{"test":"datum.value%250===0","value":16},"value":8}}},"y2":{"datum":0}}},
{"data":{"name":"means"},"transform":[{"filter":"datum.m==='CC_S5'"}],"mark":"rule","encoding":{"x":{"field":"v","type":"quantitative"},"color":{"field":"s","type":"nominal","scale":{"domain":["NA25","CC_S5"],"range":["#6e6e6e","#9ccfe0"]},"legend":null}}},
{"data":{"name":"means"},"transform":[{"filter":"datum.m==='CC_S5' && datum.s==='CC_S5'"}],"mark":"text","encoding":{"x":{"datum":22000},"y":{"datum":500},"text":{"field":"m"}}}]},
{"width":226,"height":130,"layer":[
{"data":{"name":"hist"},"transform":[{"filter":"datum.m==='CCsimp4S1'"}],"mark":"bar","encoding":{"x":{"field":"a","type":"quantitative","scale":{"domain":[6500,22000],"nice":false,"zero":false},"axis":{"values":[6500,9500,12500,15500,18500,21500],"labels":false,"title":null,"tickSize":{"condition":{"test":"(datum.value-6500)%6000===0","value":16},"value":9}}},"x2":{"field":"b"},"y":{"field":"n","type":"quantitative","scale":{"domain":[0,500]},"axis":{"values":[0,125,250,375,500],"labels":false,"title":null,"tickSize":{"condition":{"test":"datum.value%250===0","value":16},"value":8}}},"y2":{"datum":0}}},
{"data":{"name":"means"},"transform":[{"filter":"datum.m==='CCsimp4S1'"}],"mark":"rule","encoding":{"x":{"field":"v","type":"quantitative"},"color":{"field":"s","type":"nominal","scale":{"domain":["NA25","CCsimp4S1"],"range":["#6e6e6e","#dcdc8c"]},"legend":null}}},
{"data":{"name":"means"},"transform":[{"filter":"datum.m==='CCsimp4S1' && datum.s==='CCsimp4S1'"}],"mark":"text","encoding":{"x":{"datum":22000},"y":{"datum":500},"text":{"field":"m"}}}]},
{"width":226,"height":130,"layer":[
{"data":{"name":"hist"},"transform":[{"filter":"datum.m==='CCsimp4_271DSZC'"}],"mark":"bar","encoding":{"x":{"field":"a","type":"quantitative","scale":{"domain":[6500,22000],"nice":false,"zero":false},"axis":{"values":[6500,9500,12500,15500,18500,21500],"labels":false,"title":null,"tickSize":{"condition":{"test":"(datum.value-6500)%6000===0","value":16},"value":9}}},"x2":{"field":"b"},"y":{"field":"n","type":"quantitative","scale":{"domain":[0,500]},"axis":{"values":[0,125,250,375,500],"labels":false,"title":null,"tickSize":{"condition":{"test":"datum.value%250===0","value":16},"value":8}}},"y2":{"datum":0}}},
{"data":{"name":"means"},"transform":[{"filter":"datum.m==='CCsimp4_271DSZC'"}],"mark":"rule","encoding":{"x":{"field":"v","type":"quantitative"},"color":{"field":"s","type":"nominal","scale":{"domain":["NA25","CCsimp4_271DSZC"],"range":["#6e6e6e","#f5d86e"]},"legend":null}}},
{"data":{"name":"means"},"transform":[{"filter":"datum.m==='CCsimp4_271DSZC' && datum.s==='CCsimp4_271DSZC'"}],"mark":"text","encoding":{"x":{"datum":22000},"y":{"datum":500},"text":{"field":"m"}}}]},
{"width":226,"height":130,"layer":[
{"data":{"name":"hist"},"transform":[{"filter":"datum.m==='CCR1ED'"}],"mark":"bar","encoding":{"x":{"field":"a","type":"quantitative","scale":{"domain":[6500,22000],"nice":false,"zero":false},"axis":{"values":[6500,9500,12500,15500,18500,21500],"labels":false,"title":null,"tickSize":{"condition":{"test":"(datum.value-6500)%6000===0","value":16},"value":9}}},"x2":{"field":"b"},"y":{"field":"n","type":"quantitative","scale":{"domain":[0,500]},"axis":{"values":[0,125,250,375,500],"labels":false,"title":null,"tickSize":{"condition":{"test":"datum.value%250===0","value":16},"value":8}}},"y2":{"datum":0}}},
{"data":{"name":"means"},"transform":[{"filter":"datum.m==='CCR1ED'"}],"mark":"rule","encoding":{"x":{"field":"v","type":"quantitative"},"color":{"field":"s","type":"nominal","scale":{"domain":["NA25","CCR1ED"],"range":["#6e6e6e","#f3a965"]},"legend":null}}},
{"data":{"name":"means"},"transform":[{"filter":"datum.m==='CCR1ED' && datum.s==='CCR1ED'"}],"mark":"text","encoding":{"x":{"datum":22000},"y":{"datum":500},"text":{"field":"m"}}}]},

{"width":226,"height":130,"layer":[
{"data":{"name":"hist"},"transform":[{"filter":"datum.m==='CC_S1'"}],"mark":"bar","encoding":{"x":{"field":"a","type":"quantitative","scale":{"domain":[6500,22000],"nice":false,"zero":false},"axis":{"values":[6500,9500,12500,15500,18500,21500],"labels":false,"title":null,"tickSize":{"condition":{"test":"(datum.value-6500)%6000===0","value":16},"value":9}}},"x2":{"field":"b"},"y":{"field":"n","type":"quantitative","scale":{"domain":[0,500]},"axis":{"values":[0,125,250,375,500],"labelExpr":"datum.value%250===0 ? datum.label : ''","title":null,"tickSize":{"condition":{"test":"datum.value%250===0","value":16},"value":8}}},"y2":{"datum":0}}},
{"data":{"name":"means"},"transform":[{"filter":"datum.m==='CC_S1'"}],"mark":"rule","encoding":{"x":{"field":"v","type":"quantitative"},"color":{"field":"s","type":"nominal","scale":{"domain":["NA25","CC_S1"],"range":["#6e6e6e","#9ccfe0"]},"legend":null}}},
{"data":{"name":"means"},"transform":[{"filter":"datum.m==='CC_S1' && datum.s==='CC_S1'"}],"mark":"text","encoding":{"x":{"datum":22000},"y":{"datum":500},"text":{"field":"m"}}}]},
{"width":226,"height":130,"layer":[
{"data":{"name":"hist"},"transform":[{"filter":"datum.m==='CC_S6'"}],"mark":"bar","encoding":{"x":{"field":"a","type":"quantitative","scale":{"domain":[6500,22000],"nice":false,"zero":false},"axis":{"values":[6500,9500,12500,15500,18500,21500],"labels":false,"title":null,"tickSize":{"condition":{"test":"(datum.value-6500)%6000===0","value":16},"value":9}}},"x2":{"field":"b"},"y":{"field":"n","type":"quantitative","scale":{"domain":[0,500]},"axis":{"values":[0,125,250,375,500],"labels":false,"title":null,"tickSize":{"condition":{"test":"datum.value%250===0","value":16},"value":8}}},"y2":{"datum":0}}},
{"data":{"name":"means"},"transform":[{"filter":"datum.m==='CC_S6'"}],"mark":"rule","encoding":{"x":{"field":"v","type":"quantitative"},"color":{"field":"s","type":"nominal","scale":{"domain":["NA25","CC_S6"],"range":["#6e6e6e","#9ccfe0"]},"legend":null}}},
{"data":{"name":"means"},"transform":[{"filter":"datum.m==='CC_S6' && datum.s==='CC_S6'"}],"mark":"text","encoding":{"x":{"datum":22000},"y":{"datum":500},"text":{"field":"m"}}}]},
{"width":226,"height":130,"layer":[
{"data":{"name":"hist"},"transform":[{"filter":"datum.m==='CCsimp4(2)'"}],"mark":"bar","encoding":{"x":{"field":"a","type":"quantitative","scale":{"domain":[6500,22000],"nice":false,"zero":false},"axis":{"values":[6500,9500,12500,15500,18500,21500],"labels":false,"title":null,"tickSize":{"condition":{"test":"(datum.value-6500)%6000===0","value":16},"value":9}}},"x2":{"field":"b"},"y":{"field":"n","type":"quantitative","scale":{"domain":[0,500]},"axis":{"values":[0,125,250,375,500],"labels":false,"title":null,"tickSize":{"condition":{"test":"datum.value%250===0","value":16},"value":8}}},"y2":{"datum":0}}},
{"data":{"name":"means"},"transform":[{"filter":"datum.m==='CCsimp4(2)'"}],"mark":"rule","encoding":{"x":{"field":"v","type":"quantitative"},"color":{"field":"s","type":"nominal","scale":{"domain":["NA25","CCsimp4(2)"],"range":["#6e6e6e","#ece08a"]},"legend":null}}},
{"data":{"name":"means"},"transform":[{"filter":"datum.m==='CCsimp4(2)' && datum.s==='CCsimp4(2)'"}],"mark":"text","encoding":{"x":{"datum":22000},"y":{"datum":500},"text":{"field":"m"}}}]},
{"width":226,"height":130,"layer":[
{"data":{"name":"hist"},"transform":[{"filter":"datum.m==='CCsimp4ZB77'"}],"mark":"bar","encoding":{"x":{"field":"a","type":"quantitative","scale":{"domain":[6500,22000],"nice":false,"zero":false},"axis":{"values":[6500,9500,12500,15500,18500,21500],"labels":false,"title":null,"tickSize":{"condition":{"test":"(datum.value-6500)%6000===0","value":16},"value":9}}},"x2":{"field":"b"},"y":{"field":"n","type":"quantitative","scale":{"domain":[0,500]},"axis":{"values":[0,125,250,375,500],"labels":false,"title":null,"tickSize":{"condition":{"test":"datum.value%250===0","value":16},"value":8}}},"y2":{"datum":0}}},
{"data":{"name":"means"},"transform":[{"filter":"datum.m==='CCsimp4ZB77'"}],"mark":"rule","encoding":{"x":{"field":"v","type":"quantitative"},"color":{"field":"s","type":"nominal","scale":{"domain":["NA25","CCsimp4ZB77"],"range":["#6e6e6e","#f3d56c"]},"legend":null}}},
{"data":{"name":"means"},"transform":[{"filter":"datum.m==='CCsimp4ZB77' && datum.s==='CCsimp4ZB77'"}],"mark":"text","encoding":{"x":{"datum":22000},"y":{"datum":500},"text":{"field":"m"}}}]},
{"width":226,"height":130,"layer":[
{"data":{"name":"hist"},"transform":[{"filter":"datum.m==='CCR1MD1'"}],"mark":"bar","encoding":{"x":{"field":"a","type":"quantitative","scale":{"domain":[6500,22000],"nice":false,"zero":false},"axis":{"values":[6500,9500,12500,15500,18500,21500],"labels":false,"title":null,"tickSize":{"condition":{"test":"(datum.value-6500)%6000===0","value":16},"value":9}}},"x2":{"field":"b"},"y":{"field":"n","type":"quantitative","scale":{"domain":[0,500]},"axis":{"values":[0,125,250,375,500],"labels":false,"title":null,"tickSize":{"condition":{"test":"datum.value%250===0","value":16},"value":8}}},"y2":{"datum":0}}},
{"data":{"name":"means"},"transform":[{"filter":"datum.m==='CCR1MD1'"}],"mark":"rule","encoding":{"x":{"field":"v","type":"quantitative"},"color":{"field":"s","type":"nominal","scale":{"domain":["NA25","CCR1MD1"],"range":["#6e6e6e","#d9783a"]},"legend":null}}},
{"data":{"name":"means"},"transform":[{"filter":"datum.m==='CCR1MD1' && datum.s==='CCR1MD1'"}],"mark":"text","encoding":{"x":{"datum":22000},"y":{"datum":500},"text":{"field":"m"}}}]},

{"width":226,"height":130,"layer":[
{"data":{"name":"hist"},"transform":[{"filter":"datum.m==='CC_S2'"}],"mark":"bar","encoding":{"x":{"field":"a","type":"quantitative","scale":{"domain":[6500,22000],"nice":false,"zero":false},"axis":{"values":[6500,9500,12500,15500,18500,21500],"labels":false,"title":null,"tickSize":{"condition":{"test":"(datum.value-6500)%6000===0","value":16},"value":9}}},"x2":{"field":"b"},"y":{"field":"n","type":"quantitative","scale":{"domain":[0,500]},"axis":{"values":[0,125,250,375,500],"labelExpr":"datum.value%250===0 ? datum.label : ''","title":"Frequency","titleX":-85,"titleY":-9,"titleBaseline":"alphabetic","tickSize":{"condition":{"test":"datum.value%250===0","value":16},"value":8}}},"y2":{"datum":0}}},
{"data":{"name":"means"},"transform":[{"filter":"datum.m==='CC_S2'"}],"mark":"rule","encoding":{"x":{"field":"v","type":"quantitative"},"color":{"field":"s","type":"nominal","scale":{"domain":["NA25","CC_S2"],"range":["#6e6e6e","#9ccfe0"]},"legend":null}}},
{"data":{"name":"means"},"transform":[{"filter":"datum.m==='CC_S2' && datum.s==='CC_S2'"}],"mark":"text","encoding":{"x":{"datum":22000},"y":{"datum":500},"text":{"field":"m"}}}]},
{"width":226,"height":130,"layer":[
{"data":{"name":"hist"},"transform":[{"filter":"datum.m==='CC_S7'"}],"mark":"bar","encoding":{"x":{"field":"a","type":"quantitative","scale":{"domain":[6500,22000],"nice":false,"zero":false},"axis":{"values":[6500,9500,12500,15500,18500,21500],"labels":false,"title":null,"tickSize":{"condition":{"test":"(datum.value-6500)%6000===0","value":16},"value":9}}},"x2":{"field":"b"},"y":{"field":"n","type":"quantitative","scale":{"domain":[0,500]},"axis":{"values":[0,125,250,375,500],"labels":false,"title":null,"tickSize":{"condition":{"test":"datum.value%250===0","value":16},"value":8}}},"y2":{"datum":0}}},
{"data":{"name":"means"},"transform":[{"filter":"datum.m==='CC_S7'"}],"mark":"rule","encoding":{"x":{"field":"v","type":"quantitative"},"color":{"field":"s","type":"nominal","scale":{"domain":["NA25","CC_S7"],"range":["#6e6e6e","#b4d8d4"]},"legend":null}}},
{"data":{"name":"means"},"transform":[{"filter":"datum.m==='CC_S7' && datum.s==='CC_S7'"}],"mark":"text","encoding":{"x":{"datum":22000},"y":{"datum":500},"text":{"field":"m"}}}]},
{"width":226,"height":130,"layer":[
{"data":{"name":"hist"},"transform":[{"filter":"datum.m==='CCsimp4ZFS'"}],"mark":"bar","encoding":{"x":{"field":"a","type":"quantitative","scale":{"domain":[6500,22000],"nice":false,"zero":false},"axis":{"values":[6500,9500,12500,15500,18500,21500],"labels":false,"title":null,"tickSize":{"condition":{"test":"(datum.value-6500)%6000===0","value":16},"value":9}}},"x2":{"field":"b"},"y":{"field":"n","type":"quantitative","scale":{"domain":[0,500]},"axis":{"values":[0,125,250,375,500],"labels":false,"title":null,"tickSize":{"condition":{"test":"datum.value%250===0","value":16},"value":8}}},"y2":{"datum":0}}},
{"data":{"name":"means"},"transform":[{"filter":"datum.m==='CCsimp4ZFS'"}],"mark":"rule","encoding":{"x":{"field":"v","type":"quantitative"},"color":{"field":"s","type":"nominal","scale":{"domain":["NA25","CCsimp4ZFS"],"range":["#6e6e6e","#f5d86e"]},"legend":null}}},
{"data":{"name":"means"},"transform":[{"filter":"datum.m==='CCsimp4ZFS' && datum.s==='CCsimp4ZFS'"}],"mark":"text","encoding":{"x":{"datum":22000},"y":{"datum":500},"text":{"field":"m"}}}]},
{"width":226,"height":130,"layer":[
{"data":{"name":"hist"},"transform":[{"filter":"datum.m==='CCR1'"}],"mark":"bar","encoding":{"x":{"field":"a","type":"quantitative","scale":{"domain":[6500,22000],"nice":false,"zero":false},"axis":{"values":[6500,9500,12500,15500,18500,21500],"labels":false,"title":null,"tickSize":{"condition":{"test":"(datum.value-6500)%6000===0","value":16},"value":9}}},"x2":{"field":"b"},"y":{"field":"n","type":"quantitative","scale":{"domain":[0,500]},"axis":{"values":[0,125,250,375,500],"labels":false,"title":null,"tickSize":{"condition":{"test":"datum.value%250===0","value":16},"value":8}}},"y2":{"datum":0}}},
{"data":{"name":"means"},"transform":[{"filter":"datum.m==='CCR1'"}],"mark":"rule","encoding":{"x":{"field":"v","type":"quantitative"},"color":{"field":"s","type":"nominal","scale":{"domain":["NA25","CCR1"],"range":["#6e6e6e","#f2c860"]},"legend":null}}},
{"data":{"name":"means"},"transform":[{"filter":"datum.m==='CCR1' && datum.s==='CCR1'"}],"mark":"text","encoding":{"x":{"datum":22000},"y":{"datum":500},"text":{"field":"m"}}}]},
{"width":226,"height":130,"layer":[
{"data":{"name":"hist"},"transform":[{"filter":"datum.m==='CCR1MD2'"}],"mark":"bar","encoding":{"x":{"field":"a","type":"quantitative","scale":{"domain":[6500,22000],"nice":false,"zero":false},"axis":{"values":[6500,9500,12500,15500,18500,21500],"labels":false,"title":null,"tickSize":{"condition":{"test":"(datum.value-6500)%6000===0","value":16},"value":9}}},"x2":{"field":"b"},"y":{"field":"n","type":"quantitative","scale":{"domain":[0,500]},"axis":{"values":[0,125,250,375,500],"labels":false,"title":null,"tickSize":{"condition":{"test":"datum.value%250===0","value":16},"value":8}}},"y2":{"datum":0}}},
{"data":{"name":"means"},"transform":[{"filter":"datum.m==='CCR1MD2'"}],"mark":"rule","encoding":{"x":{"field":"v","type":"quantitative"},"color":{"field":"s","type":"nominal","scale":{"domain":["NA25","CCR1MD2"],"range":["#6e6e6e","#f59576"]},"legend":null}}},
{"data":{"name":"means"},"transform":[{"filter":"datum.m==='CCR1MD2' && datum.s==='CCR1MD2'"}],"mark":"text","encoding":{"x":{"datum":22000},"y":{"datum":500},"text":{"field":"m"}}}]},

{"width":226,"height":130,"layer":[
{"data":{"name":"hist"},"transform":[{"filter":"datum.m==='CC_S3'"}],"mark":"bar","encoding":{"x":{"field":"a","type":"quantitative","scale":{"domain":[6500,22000],"nice":false,"zero":false},"axis":{"values":[6500,9500,12500,15500,18500,21500],"labels":false,"title":null,"tickSize":{"condition":{"test":"(datum.value-6500)%6000===0","value":16},"value":9}}},"x2":{"field":"b"},"y":{"field":"n","type":"quantitative","scale":{"domain":[0,500]},"axis":{"values":[0,125,250,375,500],"labelExpr":"datum.value%250===0 ? datum.label : ''","title":null,"tickSize":{"condition":{"test":"datum.value%250===0","value":16},"value":8}}},"y2":{"datum":0}}},
{"data":{"name":"means"},"transform":[{"filter":"datum.m==='CC_S3'"}],"mark":"rule","encoding":{"x":{"field":"v","type":"quantitative"},"color":{"field":"s","type":"nominal","scale":{"domain":["NA25","CC_S3"],"range":["#6e6e6e","#9ccfe0"]},"legend":null}}},
{"data":{"name":"means"},"transform":[{"filter":"datum.m==='CC_S3' && datum.s==='CC_S3'"}],"mark":"text","encoding":{"x":{"datum":22000},"y":{"datum":500},"text":{"field":"m"}}}]},
{"width":226,"height":130,"layer":[
{"data":{"name":"hist"},"transform":[{"filter":"datum.m==='CCsimp5'"}],"mark":"bar","encoding":{"x":{"field":"a","type":"quantitative","scale":{"domain":[6500,22000],"nice":false,"zero":false},"axis":{"values":[6500,9500,12500,15500,18500,21500],"labels":false,"title":null,"tickSize":{"condition":{"test":"(datum.value-6500)%6000===0","value":16},"value":9}}},"x2":{"field":"b"},"y":{"field":"n","type":"quantitative","scale":{"domain":[0,500]},"axis":{"values":[0,125,250,375,500],"labels":false,"title":null,"tickSize":{"condition":{"test":"datum.value%250===0","value":16},"value":8}}},"y2":{"datum":0}}},
{"data":{"name":"means"},"transform":[{"filter":"datum.m==='CCsimp5'"}],"mark":"rule","encoding":{"x":{"field":"v","type":"quantitative"},"color":{"field":"s","type":"nominal","scale":{"domain":["NA25","CCsimp5"],"range":["#6e6e6e","#b8cca0"]},"legend":null}}},
{"data":{"name":"means"},"transform":[{"filter":"datum.m==='CCsimp5' && datum.s==='CCsimp5'"}],"mark":"text","encoding":{"x":{"datum":22000},"y":{"datum":500},"text":{"field":"m"}}}]},
{"width":226,"height":130,"layer":[
{"data":{"name":"hist"},"transform":[{"filter":"datum.m==='CCsimp4ZFW'"}],"mark":"bar","encoding":{"x":{"field":"a","type":"quantitative","scale":{"domain":[6500,22000],"nice":false,"zero":false},"axis":{"values":[6500,9500,12500,15500,18500,21500],"labels":false,"title":null,"tickSize":{"condition":{"test":"(datum.value-6500)%6000===0","value":16},"value":9}}},"x2":{"field":"b"},"y":{"field":"n","type":"quantitative","scale":{"domain":[0,500]},"axis":{"values":[0,125,250,375,500],"labels":false,"title":null,"tickSize":{"condition":{"test":"datum.value%250===0","value":16},"value":8}}},"y2":{"datum":0}}},
{"data":{"name":"means"},"transform":[{"filter":"datum.m==='CCsimp4ZFW'"}],"mark":"rule","encoding":{"x":{"field":"v","type":"quantitative"},"color":{"field":"s","type":"nominal","scale":{"domain":["NA25","CCsimp4ZFW"],"range":["#6e6e6e","#f5d86e"]},"legend":null}}},
{"data":{"name":"means"},"transform":[{"filter":"datum.m==='CCsimp4ZFW' && datum.s==='CCsimp4ZFW'"}],"mark":"text","encoding":{"x":{"datum":22000},"y":{"datum":500},"text":{"field":"m"}}}]},
{"width":226,"height":130,"layer":[
{"data":{"name":"hist"},"transform":[{"filter":"datum.m==='R1ABZD'"}],"mark":"bar","encoding":{"x":{"field":"a","type":"quantitative","scale":{"domain":[6500,22000],"nice":false,"zero":false},"axis":{"values":[6500,9500,12500,15500,18500,21500],"labels":false,"title":null,"tickSize":{"condition":{"test":"(datum.value-6500)%6000===0","value":16},"value":9}}},"x2":{"field":"b"},"y":{"field":"n","type":"quantitative","scale":{"domain":[0,500]},"axis":{"values":[0,125,250,375,500],"labels":false,"title":null,"tickSize":{"condition":{"test":"datum.value%250===0","value":16},"value":8}}},"y2":{"datum":0}}},
{"data":{"name":"means"},"transform":[{"filter":"datum.m==='R1ABZD'"}],"mark":"rule","encoding":{"x":{"field":"v","type":"quantitative"},"color":{"field":"s","type":"nominal","scale":{"domain":["NA25","R1ABZD"],"range":["#6e6e6e","#f2c860"]},"legend":null}}},
{"data":{"name":"means"},"transform":[{"filter":"datum.m==='R1ABZD' && datum.s==='R1ABZD'"}],"mark":"text","encoding":{"x":{"datum":22000},"y":{"datum":500},"text":{"field":"m"}}}]},
{"width":226,"height":130,"layer":[
{"data":{"name":"hist"},"transform":[{"filter":"datum.m==='R1WSEN'"}],"mark":"bar","encoding":{"x":{"field":"a","type":"quantitative","scale":{"domain":[6500,22000],"nice":false,"zero":false},"axis":{"values":[6500,9500,12500,15500,18500,21500],"labels":false,"title":null,"tickSize":{"condition":{"test":"(datum.value-6500)%6000===0","value":16},"value":9}}},"x2":{"field":"b"},"y":{"field":"n","type":"quantitative","scale":{"domain":[0,500]},"axis":{"values":[0,125,250,375,500],"labels":false,"title":null,"tickSize":{"condition":{"test":"datum.value%250===0","value":16},"value":8}}},"y2":{"datum":0}}},
{"data":{"name":"means"},"transform":[{"filter":"datum.m==='R1WSEN'"}],"mark":"rule","encoding":{"x":{"field":"v","type":"quantitative"},"color":{"field":"s","type":"nominal","scale":{"domain":["NA25","R1WSEN"],"range":["#6e6e6e","#f37e68"]},"legend":null}}},
{"data":{"name":"means"},"transform":[{"filter":"datum.m==='R1WSEN' && datum.s==='R1WSEN'"}],"mark":"text","encoding":{"x":{"datum":22000},"y":{"datum":500},"text":{"field":"m"}}}]},

{"width":226,"height":130,"layer":[
{"data":{"name":"hist"},"transform":[{"filter":"datum.m==='CC_S3-4'"}],"mark":"bar","encoding":{"x":{"field":"a","type":"quantitative","scale":{"domain":[6500,22000],"nice":false,"zero":false},"axis":{"values":[6500,9500,12500,15500,18500,21500],"format":"d","labelExpr":"(datum.value-6500)%6000===0 ? datum.label : ''","title":null,"tickSize":{"condition":{"test":"(datum.value-6500)%6000===0","value":16},"value":9}}},"x2":{"field":"b"},"y":{"field":"n","type":"quantitative","scale":{"domain":[0,500]},"axis":{"values":[0,125,250,375,500],"labelExpr":"datum.value%250===0 ? datum.label : ''","title":null,"tickSize":{"condition":{"test":"datum.value%250===0","value":16},"value":8}}},"y2":{"datum":0}}},
{"data":{"name":"means"},"transform":[{"filter":"datum.m==='CC_S3-4'"}],"mark":"rule","encoding":{"x":{"field":"v","type":"quantitative"},"color":{"field":"s","type":"nominal","scale":{"domain":["NA25","CC_S3-4"],"range":["#6e6e6e","#9ccfe0"]},"legend":null}}},
{"data":{"name":"means"},"transform":[{"filter":"datum.m==='CC_S3-4' && datum.s==='CC_S3-4'"}],"mark":"text","encoding":{"x":{"datum":22000},"y":{"datum":500},"text":{"field":"m"}}}]},
{"width":226,"height":130,"layer":[
{"data":{"name":"hist"},"transform":[{"filter":"datum.m==='CCsimp5a'"}],"mark":"bar","encoding":{"x":{"field":"a","type":"quantitative","scale":{"domain":[6500,22000],"nice":false,"zero":false},"axis":{"values":[6500,9500,12500,15500,18500,21500],"format":"d","labelExpr":"(datum.value-6500)%6000===0 ? datum.label : ''","title":null,"tickSize":{"condition":{"test":"(datum.value-6500)%6000===0","value":16},"value":9}}},"x2":{"field":"b"},"y":{"field":"n","type":"quantitative","scale":{"domain":[0,500]},"axis":{"values":[0,125,250,375,500],"labels":false,"title":null,"tickSize":{"condition":{"test":"datum.value%250===0","value":16},"value":8}}},"y2":{"datum":0}}},
{"data":{"name":"means"},"transform":[{"filter":"datum.m==='CCsimp5a'"}],"mark":"rule","encoding":{"x":{"field":"v","type":"quantitative"},"color":{"field":"s","type":"nominal","scale":{"domain":["NA25","CCsimp5a"],"range":["#6e6e6e","#bccf9c"]},"legend":null}}},
{"data":{"name":"means"},"transform":[{"filter":"datum.m==='CCsimp5a' && datum.s==='CCsimp5a'"}],"mark":"text","encoding":{"x":{"datum":22000},"y":{"datum":500},"text":{"field":"m"}}}]},
{"width":226,"height":130,"layer":[
{"data":{"name":"hist"},"transform":[{"filter":"datum.m==='CCsimp4ZFSW'"}],"mark":"bar","encoding":{"x":{"field":"a","type":"quantitative","scale":{"domain":[6500,22000],"nice":false,"zero":false},"axis":{"values":[6500,9500,12500,15500,18500,21500],"format":"d","labelExpr":"(datum.value-6500)%6000===0 ? datum.label : ''","title":"Discharge (cfs)","tickSize":{"condition":{"test":"(datum.value-6500)%6000===0","value":16},"value":9}}},"x2":{"field":"b"},"y":{"field":"n","type":"quantitative","scale":{"domain":[0,500]},"axis":{"values":[0,125,250,375,500],"labels":false,"title":null,"tickSize":{"condition":{"test":"datum.value%250===0","value":16},"value":8}}},"y2":{"datum":0}}},
{"data":{"name":"means"},"transform":[{"filter":"datum.m==='CCsimp4ZFSW'"}],"mark":"rule","encoding":{"x":{"field":"v","type":"quantitative"},"color":{"field":"s","type":"nominal","scale":{"domain":["NA25","CCsimp4ZFSW"],"range":["#6e6e6e","#f5d86e"]},"legend":null}}},
{"data":{"name":"means"},"transform":[{"filter":"datum.m==='CCsimp4ZFSW' && datum.s==='CCsimp4ZFSW'"}],"mark":"text","encoding":{"x":{"datum":22000},"y":{"datum":500},"text":{"field":"m"}}}]},
{"width":226,"height":130,"layer":[
{"data":{"name":"hist"},"transform":[{"filter":"datum.m==='R1ABZC'"}],"mark":"bar","encoding":{"x":{"field":"a","type":"quantitative","scale":{"domain":[6500,22000],"nice":false,"zero":false},"axis":{"values":[6500,9500,12500,15500,18500,21500],"format":"d","labelExpr":"(datum.value-6500)%6000===0 ? datum.label : ''","title":null,"tickSize":{"condition":{"test":"(datum.value-6500)%6000===0","value":16},"value":9}}},"x2":{"field":"b"},"y":{"field":"n","type":"quantitative","scale":{"domain":[0,500]},"axis":{"values":[0,125,250,375,500],"labels":false,"title":null,"tickSize":{"condition":{"test":"datum.value%250===0","value":16},"value":8}}},"y2":{"datum":0}}},
{"data":{"name":"means"},"transform":[{"filter":"datum.m==='R1ABZC'"}],"mark":"rule","encoding":{"x":{"field":"v","type":"quantitative"},"color":{"field":"s","type":"nominal","scale":{"domain":["NA25","R1ABZC"],"range":["#6e6e6e","#f2c45e"]},"legend":null}}},
{"data":{"name":"means"},"transform":[{"filter":"datum.m==='R1ABZC' && datum.s==='R1ABZC'"}],"mark":"text","encoding":{"x":{"datum":22000},"y":{"datum":500},"text":{"field":"m"}}}]},
{"width":226,"height":130,"layer":[
{"data":{"name":"hist"},"transform":[{"filter":"datum.m==='R1WSMF'"}],"mark":"bar","encoding":{"x":{"field":"a","type":"quantitative","scale":{"domain":[6500,22000],"nice":false,"zero":false},"axis":{"values":[6500,9500,12500,15500,18500,21500],"format":"d","labelExpr":"(datum.value-6500)%6000===0 ? datum.label : ''","title":null,"tickSize":{"condition":{"test":"(datum.value-6500)%6000===0","value":16},"value":9}}},"x2":{"field":"b"},"y":{"field":"n","type":"quantitative","scale":{"domain":[0,500]},"axis":{"values":[0,125,250,375,500],"labels":false,"title":null,"tickSize":{"condition":{"test":"datum.value%250===0","value":16},"value":8}}},"y2":{"datum":0}}},
{"data":{"name":"means"},"transform":[{"filter":"datum.m==='R1WSMF'"}],"mark":"rule","encoding":{"x":{"field":"v","type":"quantitative"},"color":{"field":"s","type":"nominal","scale":{"domain":["NA25","R1WSMF"],"range":["#6e6e6e","#ef6555"]},"legend":null}}},
{"data":{"name":"means"},"transform":[{"filter":"datum.m==='R1WSMF' && datum.s==='R1WSMF'"}],"mark":"text","encoding":{"x":{"datum":22000},"y":{"datum":500},"text":{"field":"m"}}}]}
],
"config": {
"font": "Liberation Serif",
"view": {"stroke": "black", "strokeWidth": 2},
"scale": {"continuousPadding": 0},
"axis": {"domainColor": "black", "domainWidth": 2, "tickColor": "black", "tickWidth": 2, "labelColor": "black", "labelFont": "Liberation Serif", "titleFont": "Liberation Serif", "titleFontWeight": "normal", "titleColor": "black", "titleFontSize": 34, "grid": false, "labelOverlap": false},
"axisX": {"labelFontSize": 16, "labelPadding": 2, "labelFlush": false, "titlePadding": 23},
"axisY": {"labelFontSize": 23, "labelPadding": 3},
"bar": {"fill": "#d3d3d3", "stroke": "#1a1a1a", "strokeWidth": 1},
"rule": {"strokeDash": [11, 7], "strokeWidth": 3, "opacity": 0.8},
"text": {"align": "right", "baseline": "alphabetic", "dx": -4, "dy": 22, "font": "Liberation Serif", "fontSize": 18, "color": "black"}
}
}
